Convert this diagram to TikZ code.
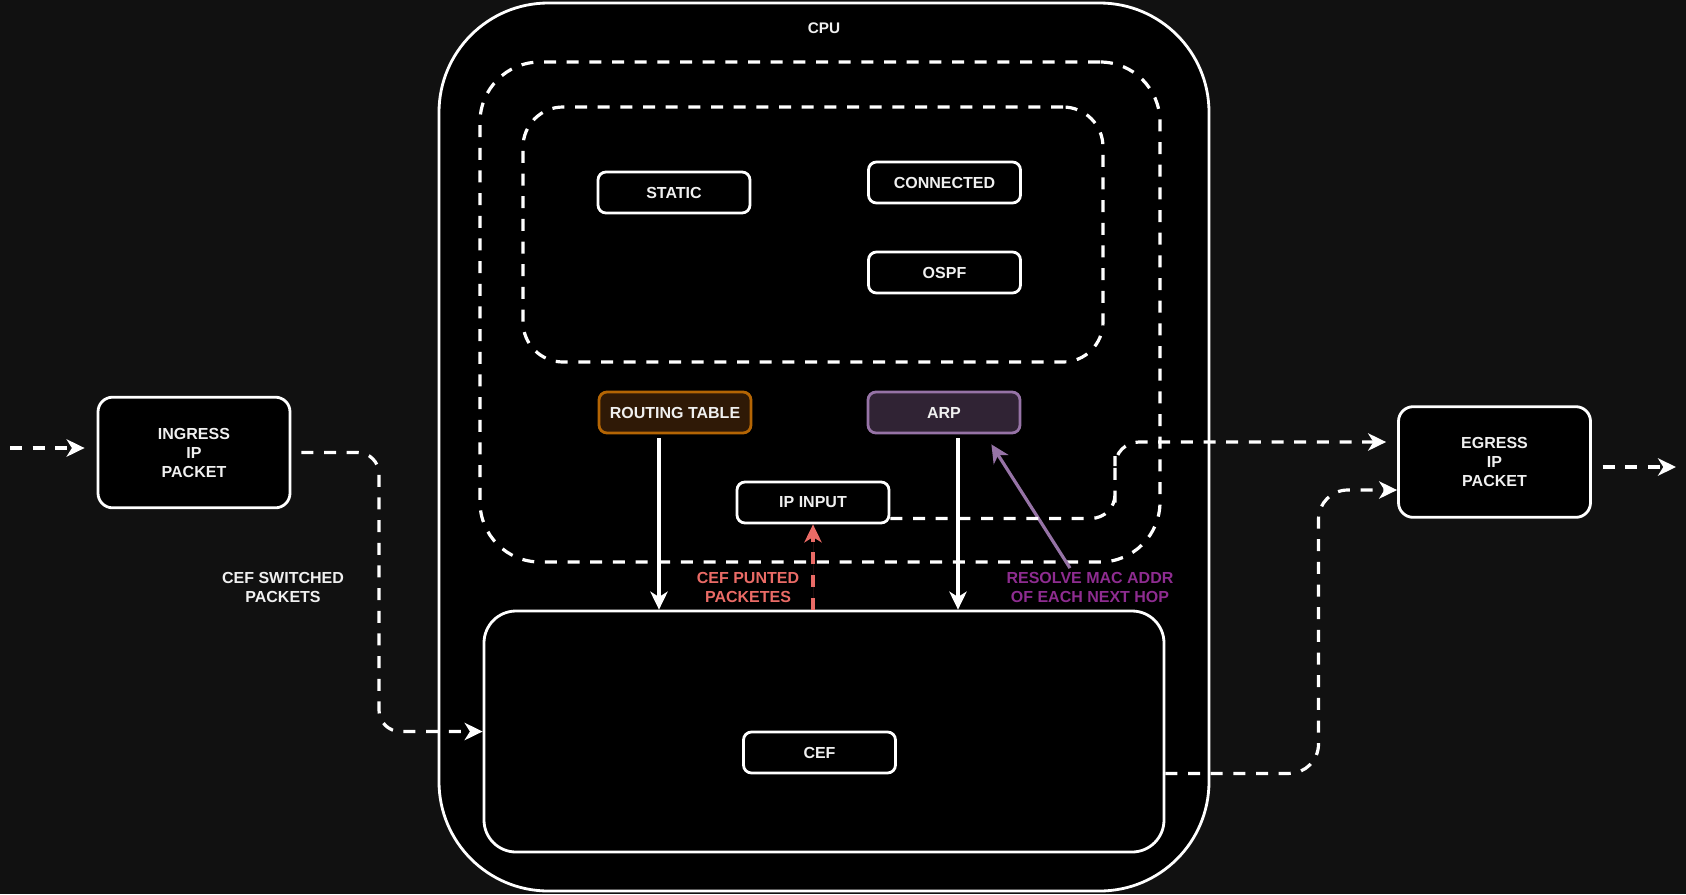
\documentclass[tikz,border=0pt]{standalone}
\usepackage{fontspec}
\setmainfont{Liberation Sans}
\usetikzlibrary{arrows.meta,calc}
\definecolor{bgc}{HTML}{111111}
\definecolor{txt}{HTML}{F0F0F0}
\definecolor{rtfill}{HTML}{2F1906}
\definecolor{rtline}{HTML}{B46504}
\definecolor{arpfill}{HTML}{302334}
\definecolor{arpline}{HTML}{9673A6}
\definecolor{puntred}{HTML}{EA6B66}
\definecolor{restxt}{HTML}{8E2C90}
\begin{document}
\begin{tikzpicture}[x=0.75pt,y=-0.75pt,
  boldfont/.style={font=\fontsize{12}{14.25}\selectfont\bfseries},
  wbox/.style={draw=white, line width=2.1pt, fill=black, rounded corners=6pt,
    minimum width=114pt, minimum height=30.75pt, text=txt, inner sep=0pt, boldfont},
  pkt/.style={draw=white, line width=2.1pt, fill=black, rounded corners=11pt,
    minimum width=144pt, minimum height=83pt, text=txt, inner sep=0pt, align=center, boldfont},
  dbox/.style={draw=white, line width=2.4pt, dash pattern=on 9pt off 8pt, inner sep=0pt},
  lbl/.style={inner sep=0pt, align=center, boldfont},
  dline/.style={draw=white, line width=2.4pt, dash pattern=on 9pt off 8pt},
  sline/.style={draw=white, line width=2.5pt},
  tip/.style={-{Stealth[length=13.5pt,width=13pt,inset=4pt]}}
]
\fill[bgc] (0,0) rectangle (1686,894);
\useasboundingbox (0,0) rectangle (1686,894);

% containers
\node[draw=white, line width=2.1pt, fill=black, rounded corners=82pt,
  minimum width=577.5pt, minimum height=666pt, inner sep=0pt] (cpu) at (824,447) {};
\node[inner sep=0pt, text=txt, font=\fontsize{11.5}{14}\selectfont\bfseries] (cpulbl) at (824,28) {CPU};
\node[dbox, minimum width=510pt, minimum height=375pt, rounded corners=45pt] (outer) at (820,312) {};
\node[dbox, minimum width=435pt, minimum height=191.25pt, rounded corners=30pt] (inner) at (813,234.5) {};
\node[draw=white, line width=2.1pt, fill=black, rounded corners=24pt,
  minimum width=510pt, minimum height=180.75pt, inner sep=0pt] (cefbox) at (824,731.5) {};

% boxes
\node[wbox] (static) at (674,192.5) {STATIC};
\node[wbox] (conn) at (944.5,182.5) {CONNECTED};
\node[wbox] (ospf) at (944.5,272.5) {OSPF};
\node[wbox, draw=rtline, fill=rtfill] (rt) at (675,412.5) {ROUTING TABLE};
\node[wbox, draw=arpline, fill=arpfill] (arp) at (944,412.5) {ARP};
\node[wbox] (ipin) at (813,502.5) {IP INPUT};
\node[wbox] (cef) at (819.5,752.5) {CEF};
\node[pkt] (ing) at (194,452.5) {INGRESS\\IP\\PACKET};
\node[pkt] (egr) at (1494.5,462) {EGRESS\\IP\\PACKET};

% labels
\node[lbl, text=txt] (swl) at (283,587.5) {CEF SWITCHED\\PACKETS};
\node[lbl, text=puntred] (pul) at (748,587.5) {CEF PUNTED\\PACKETES};
\node[lbl, text=restxt] (res) at (1090,587.5) {RESOLVE MAC ADDR\\OF EACH NEXT HOP};

% coordinates
\coordinate (src) at (10,448);
\coordinate (dst) at (1676,467);
\coordinate (j1) at (379,600);
\coordinate (j2) at (1115,480);
\coordinate (j3) at (1318.5,640);
\coordinate (rtb) at ($(rt.south)+(-16,0)$);
\coordinate (arpb) at ($(arp.south)+(14,0)$);
\coordinate (arptip) at ($(arp.south east)+(-30,10)$);
\coordinate (ress) at ($(res.north)+(-20,-4)$);

% connectors
\draw[dline, tip, shorten >=9pt] (src) -- (ing.west |- src);
\draw[dline, tip, rounded corners=16pt] ($(ing.east)+(10,0)$) -| (j1) |- (cefbox.west);
\draw[sline, tip, shorten <=3pt] (rtb) -- (rtb |- cefbox.north);
\draw[sline, tip, shorten <=3pt] (arpb) -- (arpb |- cefbox.north);
\draw[dline, tip, draw=puntred, fill=puntred] (ipin.south |- cefbox.north) -- (ipin.south);
\draw[line width=2.4pt, draw=arpline, tip, fill=arpline] (ress) -- (arptip);
\draw[dline, tip, rounded corners=18pt] ($(ipin.south east)+(0,-6)$) -| (j2) |- ($(egr.west)+(-11,-20)$);
\draw[dline, tip, rounded corners=22pt] ($(cefbox.south east)+(0,-80)$) -| (j3) |- ($(egr.west)+(0,28)$);
\draw[dline, tip, shorten <=8pt] ($(egr.east)+(0,5)$) -- (dst);
\end{tikzpicture}
\end{document}
